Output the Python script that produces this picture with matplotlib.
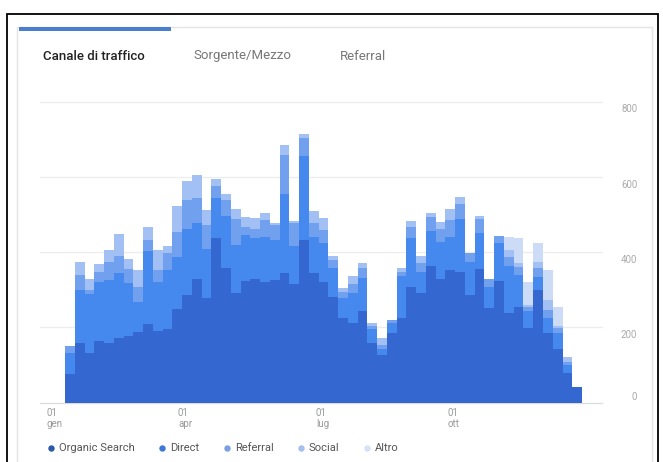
import matplotlib
matplotlib.use('Agg')
import matplotlib.pyplot as plt
import numpy as np
from matplotlib.patches import Rectangle
from matplotlib.lines import Line2D

plt.rcParams['font.family'] = ['Roboto', 'DejaVu Sans']

# valori settimanali per canale (sessioni)
organic = [76, 158, 133, 165, 160, 171, 177, 187, 209, 191, 195, 249, 286, 329,
           277, 439, 359, 291, 323, 329, 322, 326, 346, 315, 432, 344, 322, 280,
           226, 213, 245, 158, 127, 186, 226, 308, 291, 364, 330, 353, 348, 286,
           355, 251, 323, 238, 255, 198, 300, 184, 142, 78, 43]
direct = [55, 142, 157, 155, 166, 173, 142, 81, 194, 131, 158, 139, 175, 148,
          131, 104, 137, 128, 123, 108, 119, 106, 209, 102, 225, 97, 103, 77,
          51, 78, 87, 37, 15, 25, 111, 129, 57, 93, 98, 88, 139, 89,
          97, 57, 101, 124, 85, 46, 35, 42, 44, 22, 0]
referral = [20, 39, 10, 28, 49, 46, 36, 40, 29, 31, 44, 65, 79, 66,
            64, 33, 44, 68, 22, 24, 45, 40, 103, 60, 46, 37, 34, 22,
            18, 24, 27, 9, 11, 9, 11, 31, 24, 37, 33, 45, 41, 24,
            35, 20, 19, 26, 20, 11, 23, 21, 12, 8, 0]
social = [0, 36, 30, 20, 31, 58, 26, 45, 36, 53, 19, 70, 50, 61,
          40, 18, 16, 29, 26, 29, 17, 5, 27, 6, 10, 32, 33, 12,
          9, 22, 13, 7, 18, 0, 9, 15, 19, 11, 20, 28, 18, 0,
          9, 0, 0, 18, 11, 5, 17, 26, 7, 14, 0]
altro = [0] * 45 + [35, 66, 62, 50, 80, 50, 0, 0]

series_names = ['Organic Search', 'Direct', 'Referral', 'Social', 'Altro']
series_colors = ['#3468d0', '#4589ef', '#70a0ee', '#a2c0f3', '#cddcf6']
legend_colors = ['#2b58a8', '#3d78d8', '#7a9fe0', '#a6bff0', '#d5e2f7']

y_ticks = [0, 200, 400, 600, 800]
x_tick_pos = [-1.85, 11.58, 25.73, 39.26]
x_tick_labels = ['01\ngen', '01\napr', '01\nlug', '01\nott']

tabs = ['Canale di traffico', 'Sorgente/Mezzo', 'Referral']

W, H = 663, 462
fig = plt.figure(figsize=(W / 100, H / 100), dpi=100)


def fx(x):
    return x / W


def fy(y):
    return 1 - y / H


# cornice esterna e card
fig.add_artist(Rectangle((fx(7), fy(470)), fx(658) - fx(7), fy(14) - fy(470),
                         transform=fig.transFigure, fill=False, ec='black', lw=1.3))
fig.add_artist(Rectangle((fx(17), fy(470)), fx(652) - fx(17), fy(27) - fy(470),
                         transform=fig.transFigure, fill=False, ec='#e4e4e4', lw=1.0))
fig.add_artist(Rectangle((fx(19), fy(30.8)), fx(171) - fx(19), fy(27.3) - fy(30.8),
                         transform=fig.transFigure, color='#4a7fd0', lw=0))

# tab
tab_x = [43, 193, 340]
for i, (t, x) in enumerate(zip(tabs, tab_x)):
    fig.text(fx(x), fy(56), t, fontsize=9.5, va='center', ha='left',
             color='#222222' if i == 0 else '#777777',
             fontweight='medium' if i == 0 else 'normal')

ax = fig.add_axes([fx(40), fy(402.7), fx(602) - fx(40), fy(101.7) - fy(402.7)])

n = len(organic)
x = np.arange(n)
bottom = np.zeros(n)
for vals, col in zip([organic, direct, referral, social, altro], series_colors):
    vals = np.array(vals, dtype=float)
    ax.bar(x, vals, width=1.0, bottom=bottom, align='edge', color=col,
           linewidth=0, zorder=3)
    bottom += vals

# xlim in unita' di barra: bordo sinistro prima barra a 65px, 9.755 px/barra
ax.set_xlim((40 - 65) / 9.755, (602 - 65) / 9.755)
ax.set_ylim(0, 800)

for v in y_ticks:
    ax.axhline(v, color='#dcdcdc' if v == 0 else '#ececec', lw=0.9, zorder=1,
               clip_on=False)
    dy = 4.3 if v == 0 else -5.6
    ax.annotate(str(v), xy=(1, v), xycoords=('axes fraction', 'data'),
                xytext=(25.3, dy), textcoords='offset points', ha='right',
                va='center', fontsize=7, color='#aaaaaa')

ax.set_yticks([])
ax.set_xticks(x_tick_pos)
ax.set_xticklabels(x_tick_labels, ha='left', fontsize=7, color='#9a9a9a',
                   linespacing=1.05)
ax.tick_params(axis='x', length=0, pad=4)
for s in ax.spines.values():
    s.set_visible(False)

# legenda
leg_dot_x = [50.7, 162.3, 226.7, 300.7, 366.7]
for name, col, dx in zip(series_names, legend_colors, leg_dot_x):
    fig.add_artist(Line2D([fx(dx)], [fy(448)], marker='o', markersize=3.6,
                          color=col, transform=fig.transFigure))
    fig.text(fx(dx + 8), fy(448), name, fontsize=8, va='center', ha='left',
             color='#555555')

fig.savefig('out.png', dpi=100)
